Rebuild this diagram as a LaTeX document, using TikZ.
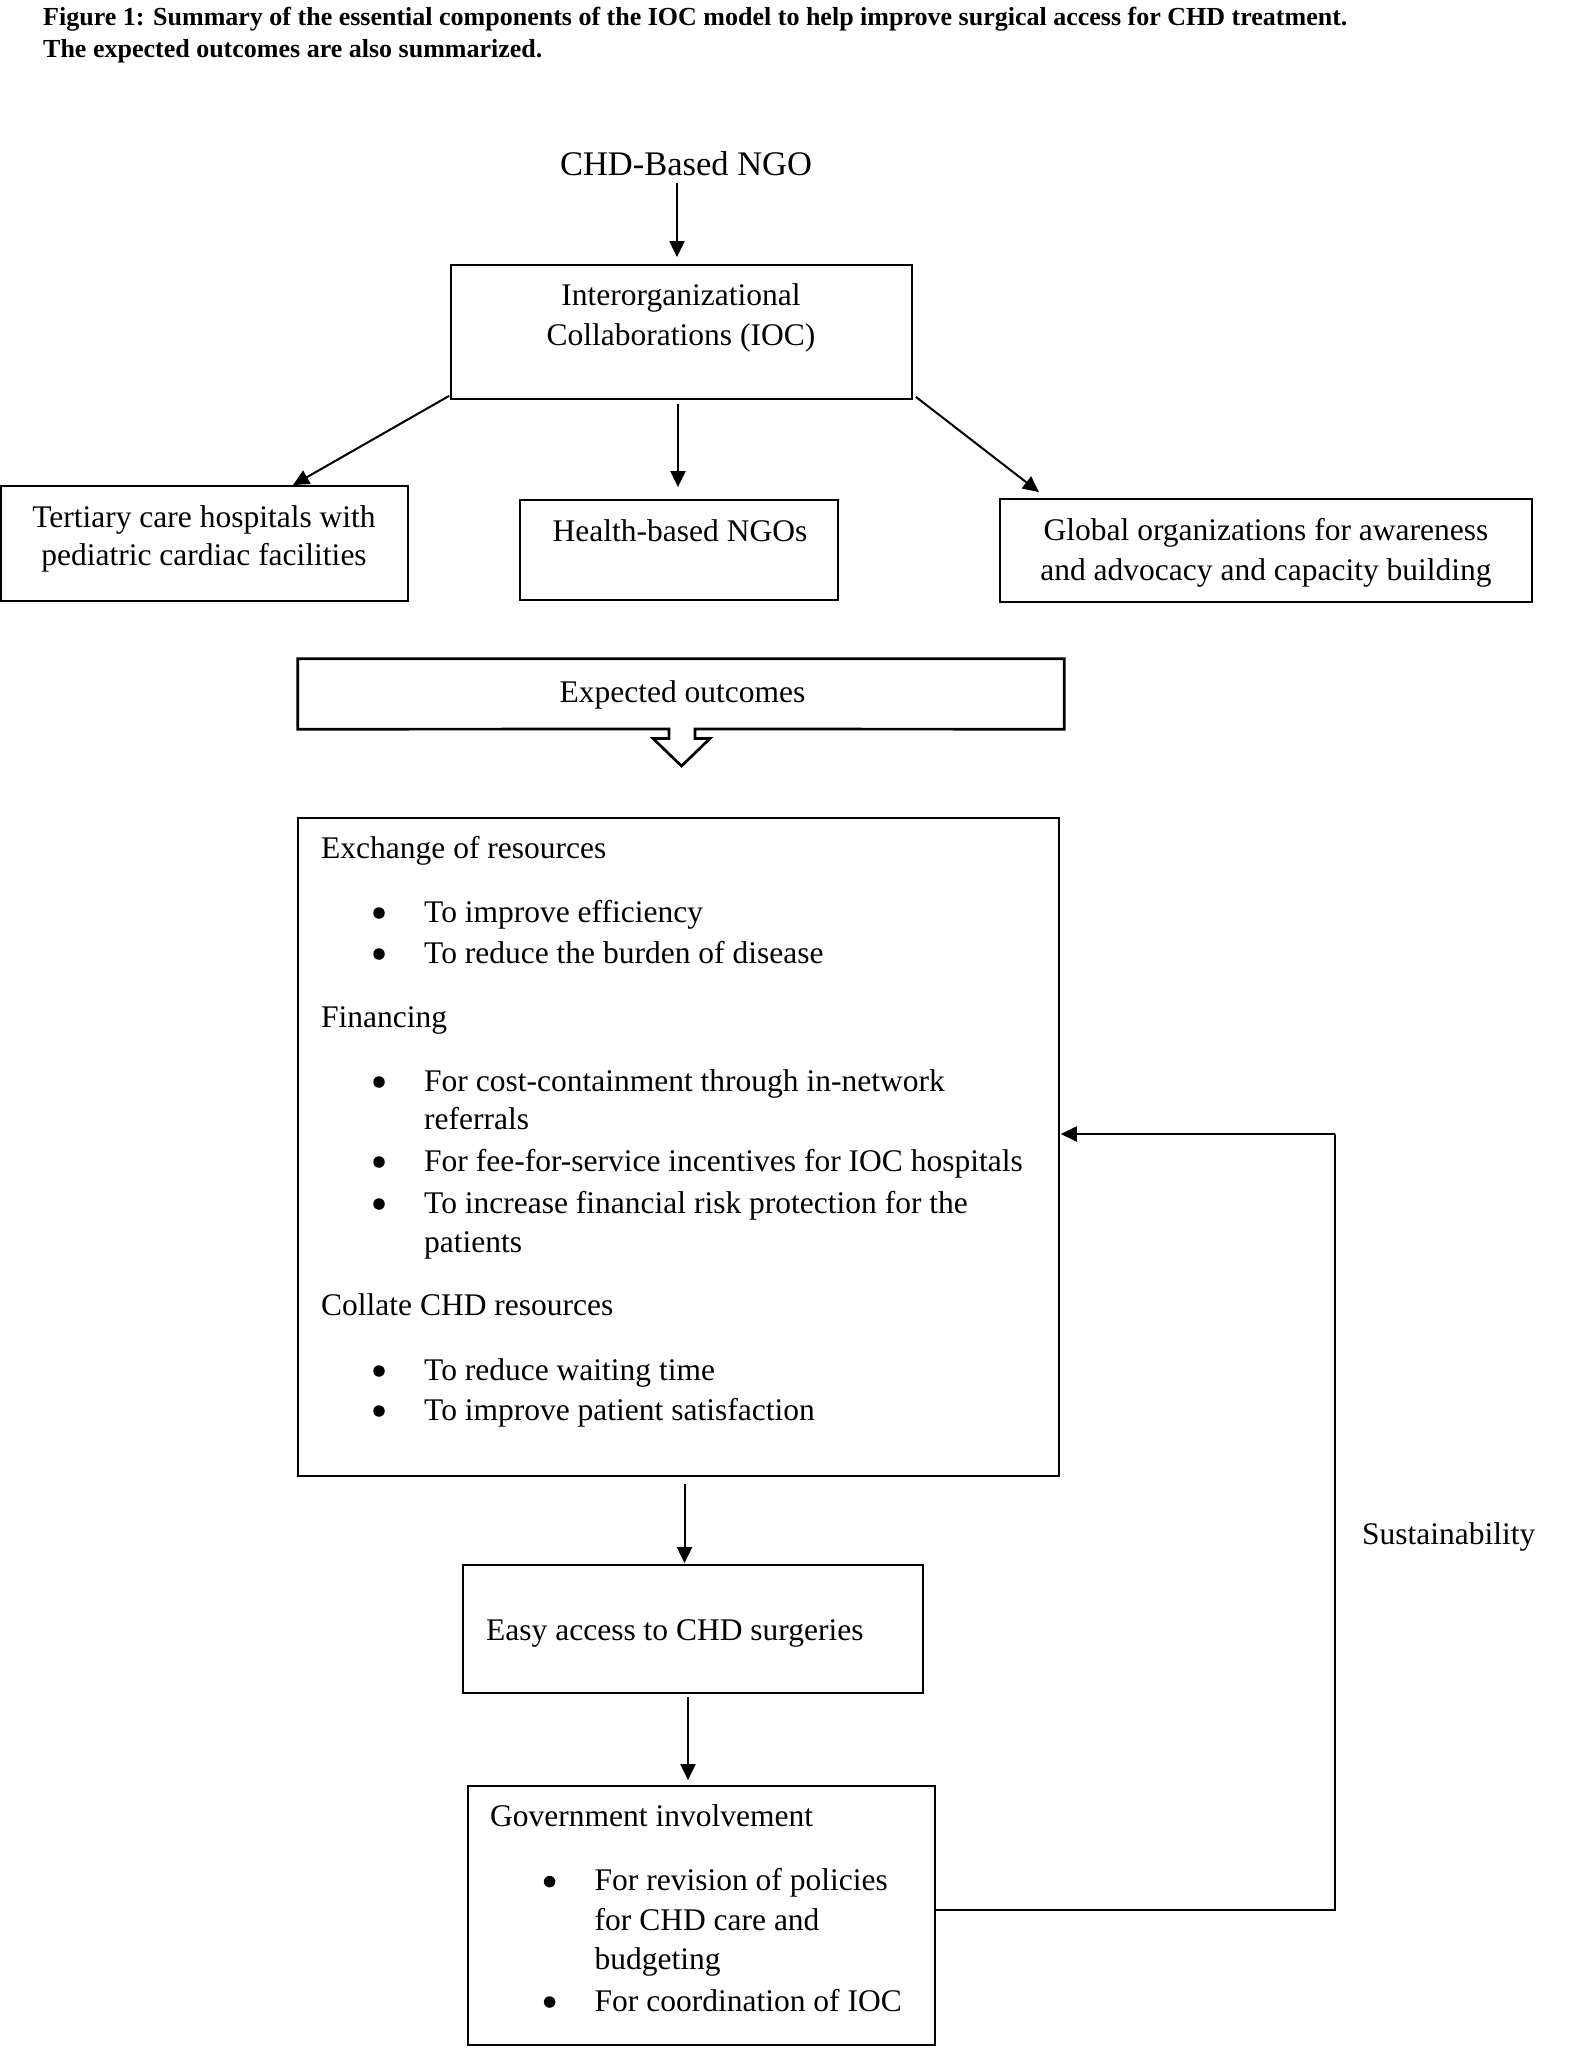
\documentclass[tikz,border=0pt]{standalone}
\usepackage{fontspec}
\setmainfont{Liberation Serif}
\usetikzlibrary{arrows.meta}
\begin{document}
\begin{tikzpicture}[x=1pt,y=-1pt,
  box/.style={draw, line width=1.8pt, inner sep=0pt, rectangle},
  arr/.style={line width=2pt, -{Triangle[length=16pt,width=15pt]}},
  txt/.style={inner sep=0pt, font=\fontsize{31.5}{38}\selectfont},
  ttl/.style={inner sep=0pt, anchor=base west, font=\fontsize{26}{32}\selectfont\bfseries},
  bul/.style={circle, fill=black, inner sep=0pt, minimum size=11.5pt},
  lft/.style={txt, anchor=base west},
  ctr/.style={txt, anchor=base}]
\useasboundingbox (0,0) rectangle (1569,2048);
\fill[white] (0,0) rectangle (1569,2048);

% title
\node[ttl] (t1) at (43,25) {Figure 1: Summary of the essential components of the IOC model to help improve surgical access for CHD treatment.};
\node[ttl] (t2) at (43,57) {The expected outcomes are also summarized.};

% top
\node[txt, anchor=base, font=\fontsize{34.5}{40}\selectfont] (chd) at (686,175) {CHD-Based NGO};
\node[box, minimum width=461pt, minimum height=134pt] (ioc) at (681.5,332) {};
\node[ctr] (ioc1) at (681,305) {Interorganizational};
\node[ctr] (ioc2) at (681,345) {Collaborations (IOC)};

\node[box, minimum width=407pt, minimum height=115pt] (tert) at (204.5,543.5) {};
\node[ctr] (tert1) at (204,527) {Tertiary care hospitals with};
\node[ctr] (tert2) at (204,565) {pediatric cardiac facilities};

\node[box, minimum width=318pt, minimum height=100pt] (health) at (679,550) {};
\node[ctr] (health1) at (680,541) {Health-based NGOs};

\node[box, minimum width=532pt, minimum height=103pt] (glob) at (1266,550.5) {};
\node[ctr] (glob1) at (1266,540.5) {Global organizations for awareness};
\node[ctr] (glob2) at (1266,580) {and advocacy and capacity building};

% arrows top
\draw[arr] ([xshift=-9pt,yshift=-8pt]chd.base) -- ([xshift=-4.5pt,yshift=7pt]ioc.north);
\draw[arr] ([xshift=-3.5pt,yshift=-4pt]ioc.south) -- ([xshift=-1pt,yshift=12pt]health.north);
\draw[arr] ([xshift=-1pt,yshift=4pt]ioc.south west) -- ([xshift=88.5pt]tert.north);
\draw[arr] ([xshift=3pt,yshift=3pt]ioc.south east) -- ([xshift=-227pt,yshift=6pt]glob.north);

% expected outcomes callout
\node[inner sep=0pt, minimum width=766pt, minimum height=70pt] (exp) at (681,694) {};
\draw[line width=2.7pt, line join=miter]
  (exp.north west) -- (exp.north east) -- (exp.south east) -- (695,729) -- (695,738.5)
  -- (710,738.5) -- (681.5,766) -- (653,738.5) -- (669,738.5) -- (669,729) -- (exp.south west) -- cycle;
\node[ctr] (exp1) at (682.5,702) {Expected outcomes};

% big box
\node[box, line width=1.6pt, minimum width=761pt, minimum height=658pt] (big) at (678.5,1147) {};
\node[lft] (b1) at (321,858) {Exchange of resources};
\node[bul] (bu1) at (379,913) {};
\node[lft] (b2) at (424,922) {To improve efficiency};
\node[bul] (bu2) at (379,954) {};
\node[lft] (b3) at (424,963) {To reduce the burden of disease};
\node[lft] (b4) at (321,1027) {Financing};
\node[bul] (bu3) at (379,1082) {};
\node[lft] (b5) at (424,1091) {For cost-containment through in-network};
\node[lft] (b6) at (424,1129) {referrals};
\node[bul] (bu4) at (379,1162) {};
\node[lft] (b7) at (424,1171) {For fee-for-service incentives for IOC hospitals};
\node[bul] (bu5) at (379,1204) {};
\node[lft] (b8) at (424,1213) {To increase financial risk protection for the};
\node[lft] (b9) at (424,1252) {patients};
\node[lft] (b10) at (321,1315) {Collate CHD resources};
\node[bul] (bu6) at (379,1371) {};
\node[lft] (b11) at (424,1380) {To reduce waiting time};
\node[bul] (bu7) at (379,1411) {};
\node[lft] (b12) at (424,1420) {To improve patient satisfaction};

% easy access
\node[box, minimum width=460pt, minimum height=128pt] (easy) at (693,1629) {};
\node[lft] (easy1) at (486,1640) {Easy access to CHD surgeries};

% government
\node[box, minimum width=467pt, minimum height=259pt] (gov) at (701.5,1915.5) {};
\node[lft] (g1) at (490,1826) {Government involvement};
\node[bul] (gu1) at (549.6,1881.6) {};
\node[lft] (g2) at (594.5,1890.6) {For revision of policies};
\node[lft] (g3) at (594.5,1930.3) {for CHD care and};
\node[lft] (g4) at (594.5,1969) {budgeting};
\node[bul] (gu2) at (549.6,2002) {};
\node[lft] (g5) at (594.5,2011) {For coordination of IOC};

% arrows bottom
\draw[arr] ([xshift=6pt,yshift=-7pt]big.south) -- ([xshift=-8.5pt,yshift=1pt]easy.north);
\draw[arr] ([xshift=-5pt,yshift=-3pt]easy.south) -- ([xshift=-13.5pt,yshift=5pt]gov.north);

% feedback loop
\coordinate (fbA) at (1335,1910);
\coordinate (fbB) at (1335,1134);
\draw[line width=1.6pt] (gov.east |- fbA) -- (fbA) -- (fbB);
\draw[arr, line width=2pt] (fbB) -- ([xshift=1pt]fbB -| big.east);
\node[lft] (sus) at (1362,1544) {Sustainability};
\end{tikzpicture}
\end{document}
